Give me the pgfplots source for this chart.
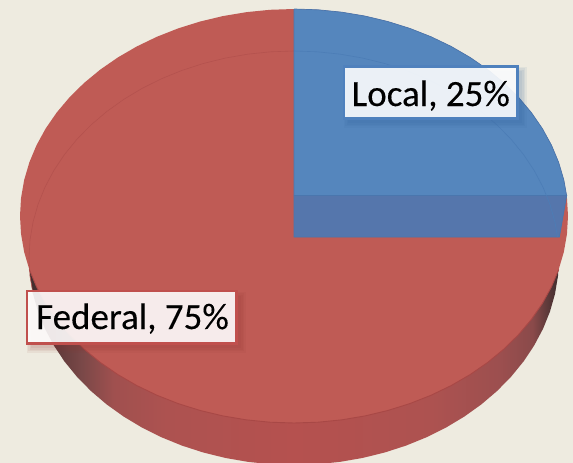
\documentclass[border=0pt]{standalone}
\usepackage{pgfplots}
\pgfplotsset{compat=1.18}
\usepackage{fontspec}
\setmainfont[FakeBold=0.2]{Carlito}
\definecolor{bgc}{HTML}{EEEBE0}
\definecolor{redtop}{HTML}{BF5B55}
\definecolor{redline}{HTML}{A84846}
\definecolor{redinner}{HTML}{B4524E}
\definecolor{bluetop}{HTML}{5586BD}
\definecolor{bluedark}{HTML}{5576AC}
\definecolor{blueline}{HTML}{4A76AD}
\definecolor{blueinner}{HTML}{4C7DB6}
\definecolor{bluebord}{HTML}{4F81BD}
\definecolor{redbord}{HTML}{C0504D}
\definecolor{bluesh}{HTML}{2F5F98}
\definecolor{redsh}{HTML}{8F3532}
\definecolor{wa}{HTML}{3F2D2D}
\definecolor{wb}{HTML}{5A3838}
\definecolor{wc}{HTML}{7A4848}
\definecolor{wd}{HTML}{A0504F}
\definecolor{we}{HTML}{AD5250}
\definecolor{wf}{HTML}{B5514F}
\definecolor{wg}{HTML}{9C4F4F}
\definecolor{wh}{HTML}{8A4A4A}
\pgfdeclarehorizontalshading{wall}{100bp}{color(0bp)=(wa); color(25bp)=(wa); color(27bp)=(wb); color(30bp)=(wc); color(33bp)=(wd); color(38bp)=(we); color(50bp)=(wf); color(63bp)=(we); color(69.4bp)=(wg); color(72.5bp)=(wh); color(74bp)=(wb); color(75bp)=(wa); color(100bp)=(wa)}
\begin{document}
\begin{tikzpicture}
\begin{axis}[
  scale only axis, width=573pt, height=463pt,
  xmin=0, xmax=573, ymin=0, ymax=463, y dir=reverse,
  hide axis, clip=true]
% background
\addplot[fill=bgc, draw=none] coordinates {(0,0)(573,0)(573,463)(0,463)};
% side wall
\addplot[shading=wall, draw=none] coordinates {
(29,258)(30.01,276.04)(33.03,293.95)(38.03,311.58)(44.98,328.8)(53.83,345.48)(64.5,361.5)(76.93,376.73)(91,391.06)(106.62,404.37)(123.66,416.57)(142,427.57)(161.5,437.27)(182.01,445.61)(203.36,452.52)(225.41,457.95)(247.98,461.86)(270.9,464.21)(294,465)
(317.1,464.21)(340.02,461.86)(362.59,457.95)(384.64,452.52)(405.99,445.61)(426.5,437.27)(446,427.57)(464.34,416.57)(481.38,404.37)(497,391.06)(511.07,376.73)(523.5,361.5)(534.17,345.48)(543.02,328.8)(549.97,311.58)(554.97,293.95)(557.99,276.04)(559,258)};
% top surface: Federal 75%
\addplot[fill=redtop, draw=none] coordinates {
(568,216)(566.96,197.96)(563.84,180.05)(558.66,162.42)(551.48,145.2)(542.33,128.52)(531.29,112.5)(518.45,97.27)(503.9,82.94)(487.75,69.63)(470.12,57.43)(451.16,46.43)(431,36.73)(409.8,28.39)(387.71,21.48)(364.92,16.05)(341.58,12.14)(317.88,9.79)(294,9)
(270.12,9.79)(246.42,12.14)(223.08,16.05)(200.29,21.48)(178.2,28.39)(157,36.73)(136.84,46.43)(117.88,57.43)(100.25,69.63)(84.1,82.94)(69.55,97.27)(56.71,112.5)(45.67,128.52)(36.52,145.2)(29.34,162.42)(24.16,180.05)(21.04,197.96)(20,216)
(21.04,234.04)(24.16,251.95)(29.34,269.58)(36.52,286.8)(45.67,303.48)(56.71,319.5)(69.55,334.73)(84.1,349.06)(100.25,362.37)(117.88,374.57)(136.84,385.57)(157,395.27)(178.2,403.61)(200.29,410.52)(223.08,415.95)(246.42,419.86)(270.12,422.21)(294,423)
(317.88,422.21)(341.58,419.86)(364.92,415.95)(387.71,410.52)(409.8,403.61)(431,395.27)(451.16,385.57)(470.12,374.57)(487.75,362.37)(503.9,349.06)(518.45,334.73)(531.29,319.5)(542.33,303.48)(551.48,286.8)(558.66,269.58)(563.84,251.95)(566.96,234.04)(568,216)};
% rim of the top surface, lower half
\addplot[color=redline, line width=0.9pt] coordinates {
(29.34,269.58)(36.52,286.8)(45.67,303.48)(56.71,319.5)(69.55,334.73)(84.1,349.06)(100.25,362.37)(117.88,374.57)(136.84,385.57)(157,395.27)(178.2,403.61)(200.29,410.52)(223.08,415.95)(246.42,419.86)(270.12,422.21)(294,423)
(317.88,422.21)(341.58,419.86)(364.92,415.95)(387.71,410.52)(409.8,403.61)(431,395.27)(451.16,385.57)(470.12,374.57)(487.75,362.37)(503.9,349.06)(518.45,334.73)(531.29,319.5)(542.33,303.48)(551.48,286.8)(558.66,269.58)};
% faint inner outline, red part
\addplot[color=redinner, line width=0.6pt] coordinates {
(33.03,293.95)(30.01,276.04)(29,258)(30.01,239.96)(33.03,222.05)(38.03,204.42)(44.98,187.2)(53.83,170.52)(64.5,154.5)(76.93,139.27)(91,124.94)(106.62,111.63)(123.66,99.43)(142,88.43)(161.5,78.73)(182.01,70.39)(203.36,63.48)(225.41,58.05)(247.98,54.14)(270.9,51.79)(294,51)};
% Local 25%: blue slice
\addplot[fill=bluetop, draw=blueline, line width=0.7pt] coordinates {
(294,9)(317.88,9.79)(341.58,12.14)(364.92,16.05)(387.71,21.48)(409.8,28.39)(431,36.73)(451.16,46.43)(470.12,57.43)(487.75,69.63)(503.9,82.94)(518.45,97.27)(531.29,112.5)(542.33,128.52)(551.48,145.2)(558.66,162.42)(563.84,180.05)(566.6,195.5)(294,195.5)(294,9)};
\addplot[fill=bluedark, draw=blueline, line width=0.9pt] coordinates {
(294,195.5)(566.6,195.5)(559.3,237)(294,237)(294,195.5)};
% faint inner outline, blue part
\addplot[color=blueinner, line width=0.6pt] coordinates {
(294,51)(317.1,51.79)(340.02,54.14)(362.59,58.05)(384.64,63.48)(405.99,70.39)(426.5,78.73)(446,88.43)(464.34,99.43)(481.38,111.63)(497,124.94)(511.07,139.27)(523.5,154.5)(534.17,170.52)(543.02,187.2)(549.97,204.42)(554.97,222.05)(557.5,237)};
% soft shadows of the labels
\fill[bluesh,opacity=0.07] (axis cs:348,71) rectangle (axis cs:522,123);
\fill[bluesh,opacity=0.07] (axis cs:346.5,69.5) rectangle (axis cs:523.5,124.5);
\fill[bluesh,opacity=0.07] (axis cs:345,68) rectangle (axis cs:525,126);
\fill[bluesh,opacity=0.07] (axis cs:343.5,66.5) rectangle (axis cs:526.5,127.5);
\fill[redsh,opacity=0.07] (axis cs:31,296) rectangle (axis cs:241,348);
\fill[redsh,opacity=0.07] (axis cs:29.5,294.5) rectangle (axis cs:242.5,349.5);
\fill[redsh,opacity=0.07] (axis cs:28,293) rectangle (axis cs:244,351);
\fill[redsh,opacity=0.07] (axis cs:26.5,291.5) rectangle (axis cs:245.5,352.5);
% labels
\fill[white,opacity=0.89] (axis cs:344,66.5) rectangle (axis cs:517.5,118.5);
\fill[white,opacity=0.89] (axis cs:27,291) rectangle (axis cs:236.5,343.5);
\draw[bluebord, line width=2.1pt] (axis cs:344,66.5) rectangle (axis cs:517.5,118.5);
\draw[redbord, line width=2.1pt] (axis cs:27,291) rectangle (axis cs:236.5,343.5);
\node[anchor=base west, inner sep=0pt, text=black] at (axis cs:351.5,106)
  {\fontsize{37pt}{40pt}\selectfont Local, 25\%};
\node[anchor=base west, inner sep=0pt, text=black] at (axis cs:36,329)
  {\fontsize{37pt}{40pt}\selectfont Federal, 75\%};
\end{axis}
\end{tikzpicture}
\end{document}
